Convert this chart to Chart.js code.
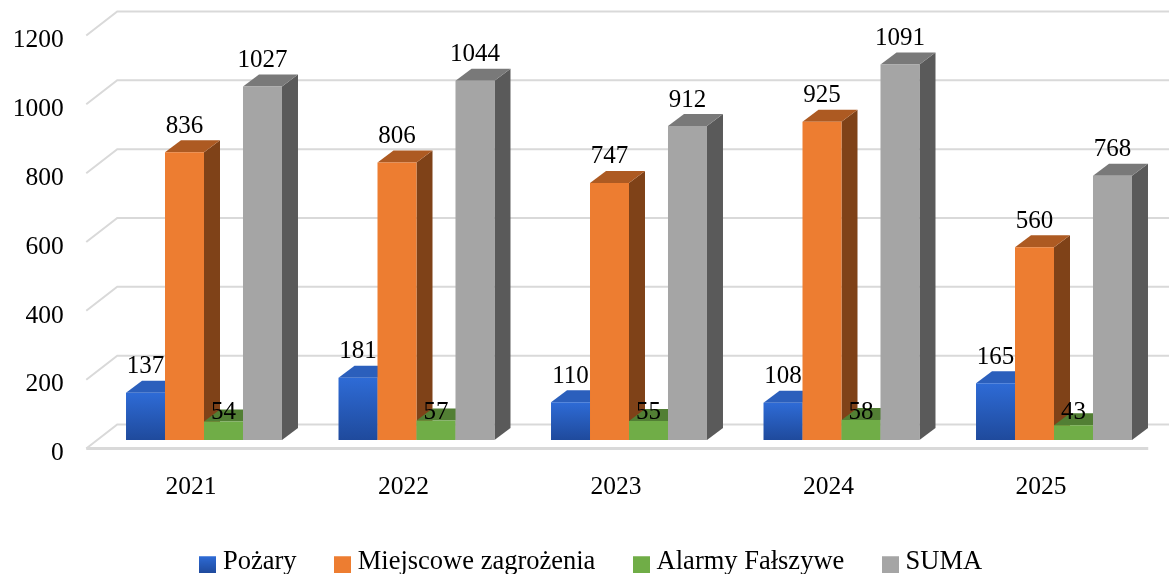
<!DOCTYPE html>
<html><head><meta charset="utf-8">
<style>html,body{margin:0;padding:0;background:#fff}#w{width:1169px;height:574px}</style>
<script src="https://cdn.jsdelivr.net/npm/chart.js@4/dist/chart.umd.min.js"></script>
</head><body><div id="w"><canvas id="c"></canvas></div>
<script>
const categories = ['2021','2022','2023','2024','2025'];
const seriesNames = ['Pożary','Miejscowe zagrożenia','Alarmy Fałszywe','SUMA'];
const pozary = [137,181,110,108,165];
const miejscowe = [836,806,747,925,560];
const alarmy = [54,57,55,58,43];
const suma = [1027,1044,912,1091,768];
const FRONT = ['#2e6bd6','#ED7D31','#70AD47','#A5A5A5'];
const FRONT_BOTTOM = ['#1f4a9c','#ED7D31','#70AD47','#A5A5A5'];
const TOP = ['#2b5fbc','#AD5A22','#527F34','#797979'];
const SIDE = ['#1f4a9c','#7F4218','#4A7230','#5A5A5A'];
const GRID = '#D9D9D9';
const DX = 16, DY = 12;
const serif = '"Liberation Serif","Times New Roman",serif';

function swatch(i){
  const c=document.createElement('canvas');c.width=17;c.height=23;
  const g=c.getContext('2d');const l=g.createLinearGradient(0,6,0,23);
  l.addColorStop(0,FRONT[i]);l.addColorStop(1,FRONT_BOTTOM[i]);
  g.fillStyle=l;g.fillRect(0,6,17,17);return c;
}
const swatches=seriesNames.map((_,i)=>swatch(i));

const bars3d={
  id:'bars3d',
  afterLayout(chart){ chart.legend.left+=13.5; chart.legend.right+=13.5; },
  beforeDatasetsDraw(chart){
    const {ctx,scales:{y},chartArea:a}=chart;
    ctx.save();ctx.strokeStyle=GRID;ctx.lineWidth=2;
    y.ticks.forEach(t=>{
      const p=y.getPixelForValue(t.value);
      ctx.beginPath();
      ctx.moveTo(a.left-11.5,p+8.5);ctx.lineTo(a.left+19.5,p-15.5);ctx.lineTo(chart.width,p-15.5);
      ctx.stroke();
    });
    const p0=y.getPixelForValue(0);
    ctx.lineWidth=3;ctx.beginPath();ctx.moveTo(a.left-11.5,p0+8.5);ctx.lineTo(a.right-12,p0+8.5);ctx.stroke();
    ctx.restore();
  },
  beforeDatasetDraw(){ return false; },
  afterDatasetsDraw(chart){
    const ctx=chart.ctx;
    // painter's order, left to right, so each bar hides the depth of the one before it
    chart.data.datasets.forEach((ds,index)=>{
      const meta=chart.getDatasetMeta(index);
      ctx.save();
      meta.data.forEach(b=>{
        const l=b.x-b.width/2,r=b.x+b.width/2,t=b.y,bt=b.base;
        ctx.fillStyle=SIDE[index];ctx.beginPath();
        ctx.moveTo(r,t);ctx.lineTo(r+DX,t-DY);ctx.lineTo(r+DX,bt-DY);ctx.lineTo(r,bt);ctx.closePath();ctx.fill();
        ctx.fillStyle=TOP[index];ctx.beginPath();
        ctx.moveTo(l,t);ctx.lineTo(l+DX,t-DY);ctx.lineTo(r+DX,t-DY);ctx.lineTo(r,t);ctx.closePath();ctx.fill();
      });
      ctx.restore();
      meta.controller.draw();
    });
    ctx.save();ctx.font='25px '+serif;ctx.fillStyle='#000';ctx.textAlign='center';ctx.textBaseline='alphabetic';
    chart.data.datasets.forEach((ds,i)=>{
      chart.getDatasetMeta(i).data.forEach((b,j)=>{
        const baseline=i===2?b.base-21:b.y-19.5;
        ctx.fillText(String(ds.data[j]),b.x,baseline);
      });
    });
    ctx.restore();
  }
};

function frontFill(i){
  return c=>{
    if(i!==0||!c.chart.chartArea||c.raw===undefined) return FRONT[i];
    const y=c.chart.scales.y;
    const g=c.chart.ctx.createLinearGradient(0,y.getPixelForValue(c.raw),0,y.getPixelForValue(0));
    g.addColorStop(0,FRONT[0]);g.addColorStop(1,FRONT_BOTTOM[0]);return g;
  };
}
const series=[pozary,miejscowe,alarmy,suma];
new Chart(document.getElementById('c'),{
  type:'bar',
  data:{labels:categories,datasets:series.map((d,i)=>({
    label:seriesNames[i],data:d,backgroundColor:frontFill(i),borderWidth:0,
    barPercentage:1,categoryPercentage:0.734
  }))},
  plugins:[bars3d],
  options:{
    responsive:true,maintainAspectRatio:false,animation:false,
    layout:{padding:{top:27,right:8.75,left:0,bottom:-11}},
    scales:{
      x:{grid:{display:false},border:{display:false},
        ticks:{font:{family:serif,size:25.5},color:'#000',labelOffset:-13,padding:24,maxRotation:0},
        afterFit(s){s.height=65;s.paddingLeft=0;s.paddingRight=0;}},
      y:{min:0,max:1200,grid:{display:false},border:{display:false},
        ticks:{stepSize:200,font:{family:serif,size:25.5},color:'#000',labelOffset:13.5,padding:26,callback:v=>String(v)},
        afterFit(s){s.width=97.75;s.paddingTop=0;s.paddingBottom=0;}}
    },
    plugins:{
      tooltip:{enabled:false},
      legend:{position:'bottom',
        labels:{usePointStyle:true,pointStyleWidth:4.5,boxHeight:17,padding:43.5,color:'#000',font:{family:serif,size:26.5},
          generateLabels(){return seriesNames.map((n,i)=>({text:n,pointStyle:swatches[i],datasetIndex:i,fontColor:'#000',lineWidth:0}));}
        }
      }
    }
  }
});
</script></body></html>
